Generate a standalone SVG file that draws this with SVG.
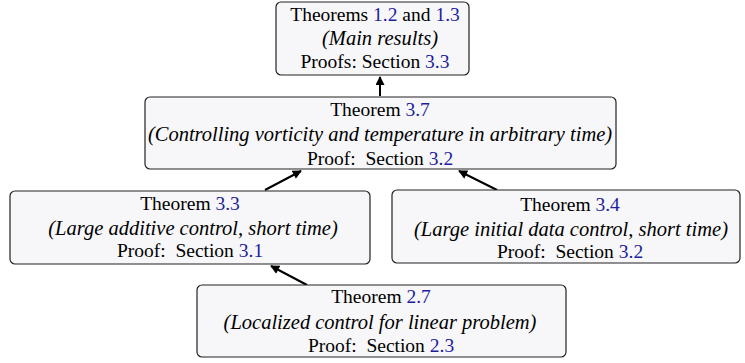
<svg xmlns="http://www.w3.org/2000/svg" width="745" height="363" viewBox="0 0 745 363">
<defs>
<style>
.box{fill:#f7f7f9;stroke:#222;stroke-width:1.2}
.t{font-family:'Liberation Serif','Times New Roman',serif;font-size:19.5px;fill:#000;text-anchor:middle}
.it{font-style:italic;font-size:20.5px}
.ref{fill:#1c1c9c}
.edge{stroke:#000;stroke-width:2;fill:none;marker-end:url(#ah)}
</style>
<marker id="ah" viewBox="0 0 10 10" refX="9" refY="5" markerWidth="10" markerHeight="9" orient="auto" markerUnits="userSpaceOnUse">
<path d="M0,0 L10,5 L0,10 z" fill="#000"/>
</marker>
</defs>
<rect width="745" height="363" fill="#fff"/>
<g id="connectors">
<line class="edge" x1="380" y1="96" x2="380" y2="77"/>
<line class="edge" x1="265" y1="190" x2="301" y2="171"/>
<line class="edge" x1="497" y1="190" x2="459" y2="171"/>
<line class="edge" x1="307" y1="285" x2="271" y2="266"/>
</g>
<g id="n1">
<rect class="box" x="276" y="2" width="193" height="73" rx="5"/>
<text class="t" x="375" y="21">Theorems <tspan class="ref">1.2</tspan> and <tspan class="ref">1.3</tspan></text>
<text class="t it" x="380" y="45">(Main results)</text>
<text class="t" x="375" y="68">Proofs: Section <tspan class="ref">3.3</tspan></text>
</g>
<g id="n2">
<rect class="box" x="145" y="97" width="471" height="72" rx="5"/>
<text class="t" x="380" y="116">Theorem <tspan class="ref">3.7</tspan></text>
<text class="t it" x="380" y="141">(Controlling vorticity and temperature in arbitrary time)</text>
<text class="t" x="380" y="165" xml:space="preserve">Proof:  Section <tspan class="ref">3.2</tspan></text>
</g>
<g id="n3">
<rect class="box" x="10" y="191" width="360" height="73" rx="5"/>
<text class="t" x="190" y="210">Theorem <tspan class="ref">3.3</tspan></text>
<text class="t it" x="193" y="235">(Large additive control, short time)</text>
<text class="t" x="190" y="257" xml:space="preserve">Proof:  Section <tspan class="ref">3.1</tspan></text>
</g>
<g id="n4">
<rect class="box" x="392" y="190" width="348" height="73" rx="5"/>
<text class="t" x="570" y="211">Theorem <tspan class="ref">3.4</tspan></text>
<text class="t it" x="571" y="236">(Large initial data control, short time)</text>
<text class="t" x="570" y="258" xml:space="preserve">Proof:  Section <tspan class="ref">3.2</tspan></text>
</g>
<g id="n5">
<rect class="box" x="197" y="285" width="369" height="72" rx="5"/>
<text class="t" x="381" y="303">Theorem <tspan class="ref">2.7</tspan></text>
<text class="t it" x="380" y="329">(Localized control for linear problem)</text>
<text class="t" x="381" y="352" xml:space="preserve">Proof:  Section <tspan class="ref">2.3</tspan></text>
</g>
</svg>
